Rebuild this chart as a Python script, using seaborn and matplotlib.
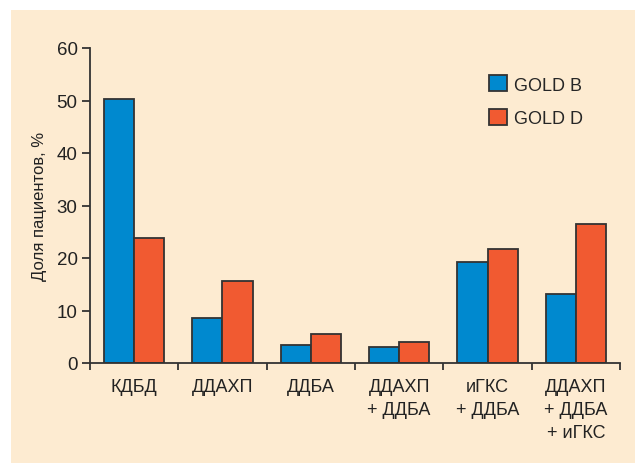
import pandas as pd
import matplotlib.pyplot as plt
import matplotlib.patches as mpatches
import seaborn as sns

# данные с рисунка
categories = ['КДБД', 'ДДАХП', 'ДДБА', 'ДДАХП\n+ ДДБА', 'иГКС\n+ ДДБА', 'ДДАХП\n+ ДДБА\n+ иГКС']
gold_b = [50.3, 8.6, 3.5, 3.0, 19.3, 13.2]
gold_d = [23.9, 15.7, 5.5, 4.0, 21.8, 26.4]
series = ['GOLD B', 'GOLD D']

df = pd.DataFrame({
    'cat': categories * 2,
    'value': gold_b + gold_d,
    'group': [series[0]] * len(categories) + [series[1]] * len(categories),
})

sns.set_style('ticks')
plt.rcParams['font.family'] = ['Liberation Sans Narrow', 'Liberation Sans', 'DejaVu Sans']

bg = '#FDEBD1'
dark = '#333333'
txt = '#222222'

fig = plt.figure(figsize=(6.35, 4.64), dpi=100, facecolor='white')
fig.patches.append(mpatches.Rectangle((11 / 635, 0), 1, 453 / 464, transform=fig.transFigure,
                                      facecolor=bg, edgecolor='none', zorder=-10))
ax = fig.add_axes([90 / 635, 1 - 364 / 464, 530 / 635, 315 / 464])
ax.set_facecolor('none')

sns.barplot(data=df, x='cat', y='value', hue='group', order=categories, hue_order=series,
            palette=['#0089CF', '#F15A31'], width=0.68, edgecolor=dark, linewidth=1.3,
            saturation=1, ax=ax)

ax.set_ylim(0, 60)
ax.set_yticks(range(0, 61, 10))
ax.set_xlim(-0.5, len(categories) - 0.5)
ax.set_xticks([i - 0.5 for i in range(len(categories) + 1)])
ax.set_xticklabels([])
ax.set_xticks(range(len(categories)), minor=True)
ax.set_xticklabels(categories, minor=True, fontsize=13, color=txt, linespacing=1.45)
ax.tick_params(axis='x', which='minor', length=0, pad=11)
ax.tick_params(axis='x', which='major', length=5, width=1.3, color=dark)
ax.tick_params(axis='y', length=6, width=1.3, color=dark, labelsize=13.5, labelcolor=txt, pad=3)

for s in ['top', 'right']:
    ax.spines[s].set_visible(False)
for s in ['left', 'bottom']:
    ax.spines[s].set_color(dark)
    ax.spines[s].set_linewidth(1.3)

ax.set_xlabel('')
ax.set_ylabel('Доля пациентов, %', fontsize=12, color=txt, labelpad=7)

leg = ax.legend(loc='upper left', bbox_to_anchor=(0.722, 0.965), frameon=False, fontsize=13,
                handlelength=1.0, handleheight=1.0, labelspacing=0.85, handletextpad=0.4)
for h in leg.legend_handles:
    h.set_edgecolor(dark)
    h.set_linewidth(1.3)

fig.savefig('out.png', dpi=100, facecolor='white')
